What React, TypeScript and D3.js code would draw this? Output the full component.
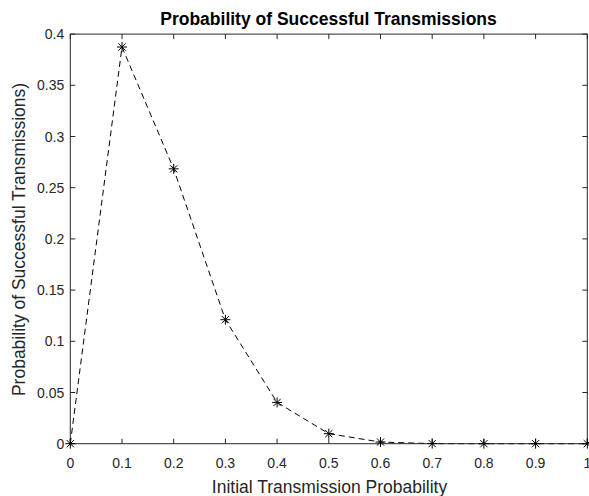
import React from "react";
import * as d3 from "d3";

// Initial transmission probability (x) and probability of a successful transmission (y)
const pValues = [0, 0.1, 0.2, 0.3, 0.4, 0.5, 0.6, 0.7, 0.8, 0.9, 1.0];
const successProb = [0, 0.3874, 0.2684, 0.1211, 0.0403, 0.0098, 0.0016, 0.0001, 0, 0, 0];

const xTicks = [0, 0.1, 0.2, 0.3, 0.4, 0.5, 0.6, 0.7, 0.8, 0.9, 1];
const yTicks = [0, 0.05, 0.1, 0.15, 0.2, 0.25, 0.3, 0.35, 0.4];
const xTickLabels = ["0", "0.1", "0.2", "0.3", "0.4", "0.5", "0.6", "0.7", "0.8", "0.9", "1"];
const yTickLabels = ["0", "0.05", "0.1", "0.15", "0.2", "0.25", "0.3", "0.35", "0.4"];

const W = 589;
const H = 496;
const left = 70.3;
const right = 587.3;
const top = 34.1;
const bottom = 443.7;
const axisColor = "#262626";
const font = "'Liberation Sans', Arial, Helvetica, sans-serif";
const tickLen = 5;

export default function App() {
  const x = d3.scaleLinear().domain([0, 1]).range([left, right]);
  const y = d3.scaleLinear().domain([0, 0.4]).range([bottom, top]);

  const pts = pValues.map((p, i) => [p, successProb[i]] as [number, number]);
  const line = d3
    .line<[number, number]>()
    .x((d) => x(d[0]))
    .y((d) => y(d[1]))(pts) as string;

  const r = 5;
  const rd = r * 0.72;

  return (
    <svg
      width={W}
      height={H}
      style={{ position: "absolute", left: 0, top: 0, background: "#fff" }}
      fontFamily={font}
    >
      <rect x={0} y={0} width={W} height={H} fill="#fff" />

      {/* ticks on all four sides, pointing inward */}
      {xTicks.map((t, i) => (
        <g key={"xt" + i} stroke={axisColor} strokeWidth={1}>
          <line x1={x(t)} x2={x(t)} y1={bottom} y2={bottom - tickLen} />
          <line x1={x(t)} x2={x(t)} y1={top} y2={top + tickLen} />
        </g>
      ))}
      {yTicks.map((t, i) => (
        <g key={"yt" + i} stroke={axisColor} strokeWidth={1}>
          <line x1={left} x2={left + tickLen} y1={y(t)} y2={y(t)} />
          <line x1={right} x2={right - tickLen} y1={y(t)} y2={y(t)} />
        </g>
      ))}

      {/* data line */}
      <path d={line} fill="none" stroke="#000" strokeWidth={1} strokeDasharray="6,4" />

      {/* box */}
      <rect
        x={left}
        y={top}
        width={right - left}
        height={bottom - top}
        fill="none"
        stroke={axisColor}
        strokeWidth={1}
      />

      {/* star markers */}
      {pts.map((d, i) => {
        const cx = x(d[0]);
        const cy = y(d[1]);
        return (
          <g key={"m" + i} stroke="#000" strokeWidth={1}>
            <line x1={cx - r} x2={cx + r} y1={cy} y2={cy} />
            <line x1={cx} x2={cx} y1={cy - r} y2={cy + r} />
            <line x1={cx - rd} x2={cx + rd} y1={cy - rd} y2={cy + rd} />
            <line x1={cx - rd} x2={cx + rd} y1={cy + rd} y2={cy - rd} />
          </g>
        );
      })}

      {/* tick labels */}
      {xTicks.map((t, i) => (
        <text
          key={"xl" + i}
          x={x(t)}
          y={467.5}
          textAnchor="middle"
          fontSize={14}
          fill={axisColor}
        >
          {xTickLabels[i]}
        </text>
      ))}
      {yTicks.map((t, i) => (
        <text
          key={"yl" + i}
          x={left - 6}
          y={y(t) + 5}
          textAnchor="end"
          fontSize={14}
          fill={axisColor}
        >
          {yTickLabels[i]}
        </text>
      ))}

      {/* title and axis labels */}
      <text
        x={(157 + 500) / 2}
        y={25}
        textAnchor="middle"
        fontSize={17.5}
        fontWeight="bold"
        fill="#000"
      >
        Probability of Successful Transmissions
      </text>
      <text x={(209 + 450) / 2} y={493} textAnchor="middle" fontSize={17.5} fill={axisColor}>
        Initial Transmission Probability
      </text>
      <text
        transform={`translate(25, ${(79 + 400) / 2}) rotate(-90)`}
        textAnchor="middle"
        fontSize={17.5}
        fill={axisColor}
      >
        Probability of Successful Transmissions)
      </text>
    </svg>
  );
}
